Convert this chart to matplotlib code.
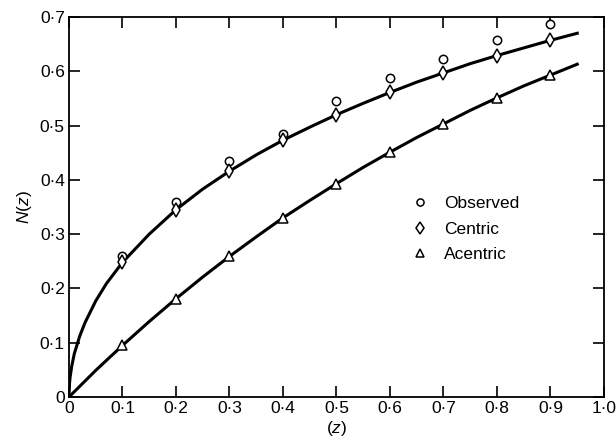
import numpy as np
import matplotlib
matplotlib.use("Agg")
import matplotlib.pyplot as plt

plt.rcParams['font.family'] = ['Liberation Sans', 'DejaVu Sans']
plt.rcParams['mathtext.fontset'] = 'custom'
plt.rcParams['mathtext.rm'] = 'Liberation Sans'
plt.rcParams['mathtext.it'] = 'Liberation Sans:italic'

# points at z = 0.1 ... 0.9
z_pts = [0.1, 0.2, 0.3, 0.4, 0.5, 0.6, 0.7, 0.8, 0.9]
observed = [0.260, 0.360, 0.435, 0.485, 0.545, 0.588, 0.622, 0.657, 0.687]
centric = [0.248, 0.345, 0.416, 0.473, 0.520, 0.561, 0.597, 0.629, 0.657]
acentric = [0.095, 0.181, 0.259, 0.330, 0.393, 0.451, 0.503, 0.551, 0.593]

# curves
z_cen = [0, 0.001, 0.002, 0.005, 0.01, 0.02, 0.03, 0.05, 0.07, 0.1, 0.15,
         0.2, 0.25, 0.3, 0.35, 0.4, 0.45, 0.5, 0.55, 0.6, 0.65, 0.7, 0.75,
         0.8, 0.85, 0.9, 0.95]
n_cen = [0, 0.025, 0.036, 0.056, 0.080, 0.112, 0.137, 0.177, 0.209, 0.248,
         0.300, 0.345, 0.383, 0.416, 0.446, 0.473, 0.497, 0.520, 0.541,
         0.561, 0.580, 0.597, 0.614, 0.629, 0.643, 0.657, 0.670]
z_acen = [0, 0.05, 0.1, 0.15, 0.2, 0.25, 0.3, 0.35, 0.4, 0.45, 0.5, 0.55,
          0.6, 0.65, 0.7, 0.75, 0.8, 0.85, 0.9, 0.95]
n_acen = [0, 0.049, 0.095, 0.139, 0.181, 0.221, 0.259, 0.295, 0.330, 0.362,
          0.393, 0.423, 0.451, 0.478, 0.503, 0.528, 0.551, 0.573, 0.593,
          0.613]

x_ticks = [0, 0.1, 0.2, 0.3, 0.4, 0.5, 0.6, 0.7, 0.8, 0.9, 1.0]
x_labels = ['0', '0·1', '0·2', '0·3', '0·4', '0·5', '0·6', '0·7', '0·8',
            '0·9', '1·0']
y_ticks = [0, 0.1, 0.2, 0.3, 0.4, 0.5, 0.6, 0.7]
y_labels = ['0', '0·1', '0·2', '0·3', '0·4', '0·5', '0·6', '0·7']

fig = plt.figure(figsize=(6.16, 4.41), dpi=100)
ax = fig.add_axes([0.112, 0.0998, 0.8685, 0.8617])

ax.plot(z_cen, n_cen, color='black', lw=2.2)
ax.plot(z_acen, n_acen, color='black', lw=2.2)

ax.plot(z_pts, observed, 'o', ms=6, mfc='white', mec='black', mew=1.1,
        ls='none', label='Observed')
ax.plot(z_pts, centric, 'd', ms=7, mfc='white', mec='black', mew=1.1,
        ls='none', label='Centric')
ax.plot(z_pts, acentric, '^', ms=6.5, mfc='white', mec='black', mew=1.1,
        ls='none', label='Acentric')

ax.set_xlim(0, 1.0)
ax.set_ylim(0, 0.7)
ax.set_xticks(x_ticks)
ax.set_xticklabels(x_labels, fontsize=12.5)
ax.set_yticks(y_ticks)
ax.set_yticklabels(y_labels, fontsize=12.5)
ax.tick_params(direction='in', length=8, width=1.2, top=True, right=True,
               pad=3)
for s in ax.spines.values():
    s.set_linewidth(1.3)

ax.set_xlabel('($z$)', fontsize=12.5, labelpad=2)
ax.set_ylabel('$N$($z$)', fontsize=12.5, labelpad=4)

ax.legend(loc='upper left', bbox_to_anchor=(0.61, 0.57), frameon=False,
          fontsize=12.5, handlelength=1.0, handletextpad=0.9,
          labelspacing=0.6, markerscale=0.85)

fig.savefig('out.png', dpi=100)
